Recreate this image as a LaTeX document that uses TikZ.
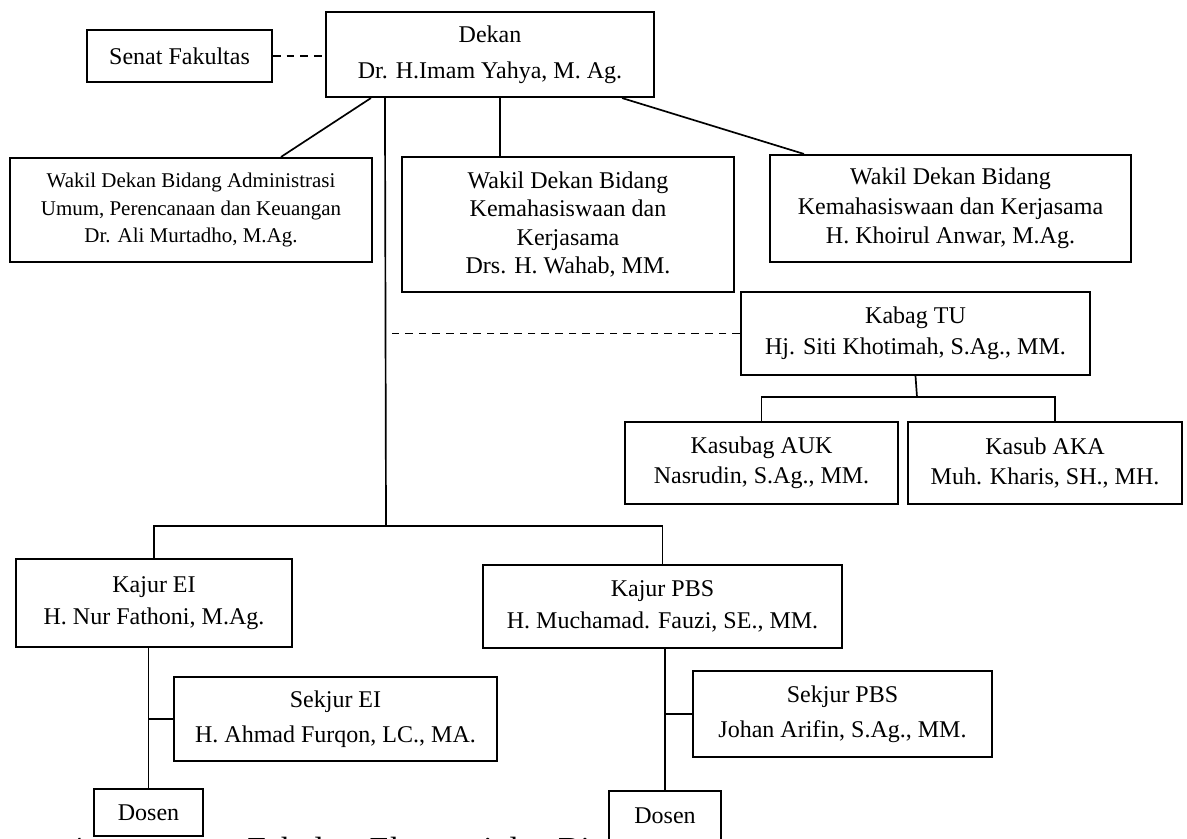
\documentclass[tikz,border=0pt]{standalone}
\usepackage{fontspec}
\setmainfont{Liberation Serif}
\usetikzlibrary{positioning}
\usetikzlibrary{calc}

\begin{document}
\begin{tikzpicture}[x=0.025cm, y=-0.025cm,
	box/.style={rectangle, draw=black, line width=1.5pt, fill=white, inner sep=0pt, align=center, font=\fontsize{17.07}{22}\selectfont},
	link/.style={line width=1.2pt},
	dashlink/.style={line width=1.2pt, dash pattern=on 5.4pt off 4.3pt},
	caption/.style={anchor=base west, inner sep=0pt, font=\fontsize{23.9}{28}\selectfont}]
	\newcommand\pxu{0.025cm}
	\useasboundingbox (0,0) rectangle (1187,839);
	\node[box, minimum width=185*\pxu, minimum height=52*\pxu] (senat) at (179.5,56) {Senat Fakultas};
	\node[box, minimum width=328*\pxu, minimum height=85*\pxu, font=\fontsize{17.07}{25.6}\selectfont] (dekan) at (490,54.5) {Dekan\\Dr. H.Imam Yahya, M. Ag.};
	\node[box, minimum width=362*\pxu, minimum height=104*\pxu, font=\fontsize{14.9}{19.6}\selectfont] (wdAdm) at (191,210) {Wakil Dekan Bidang Administrasi\\Umum, Perencanaan dan Keuangan\\Dr. Ali Murtadho, M.Ag.};
	\node[box, minimum width=332*\pxu, minimum height=135*\pxu, font=\fontsize{17.07}{20.3}\selectfont] (wdMhs) at (568,224.5) {Wakil Dekan Bidang\\Kemahasiswaan dan\\Kerjasama\\Drs. H. Wahab, MM.};
	\node[box, minimum width=361*\pxu, minimum height=107*\pxu, font=\fontsize{17.07}{21}\selectfont] (wdKrj) at (950.5,208.5) {Wakil Dekan Bidang\\Kemahasiswaan dan Kerjasama\\H. Khoirul Anwar, M.Ag.};
	\node[box, minimum width=349*\pxu, minimum height=83*\pxu] (kabag) at (915.5,333.5) {Kabag TU\\Hj. Siti Khotimah, S.Ag., MM.};
	\node[box, minimum width=273*\pxu, minimum height=82*\pxu, font=\fontsize{17.07}{21.3}\selectfont] (kasubag) at (761.5,463) {Kasubag AUK\\Nasrudin, S.Ag., MM.};
	\node[box, minimum width=274*\pxu, minimum height=82*\pxu, font=\fontsize{17.07}{21.3}\selectfont] (kasub) at (1045,463) {Kasub AKA\\Muh. Kharis, SH., MH.};
	\node[box, minimum width=276*\pxu, minimum height=88*\pxu, font=\fontsize{17.07}{23.1}\selectfont] (kajurEI) at (154,603) {Kajur EI\\H. Nur Fathoni, M.Ag.};
	\node[box, minimum width=359*\pxu, minimum height=83*\pxu, font=\fontsize{17.07}{23.1}\selectfont] (kajurPBS) at (662.5,606.5) {Kajur PBS\\H. Muchamad. Fauzi, SE., MM.};
	\node[box, minimum width=323*\pxu, minimum height=84*\pxu, font=\fontsize{17.07}{24.9}\selectfont] (sekjurEI) at (335.5,719) {Sekjur EI\\H. Ahmad Furqon, LC., MA.};
	\node[box, minimum width=299*\pxu, minimum height=86*\pxu, font=\fontsize{17.07}{24.9}\selectfont] (sekjurPBS) at (842.5,714) {Sekjur PBS\\Johan Arifin, S.Ag., MM.};
	\node[caption] (capNum) at (67,860) {4};
	\node[caption] (capText) at (247,860) {Fakultas Ekonomi dan Bisnis};
	\node[box, minimum width=109*\pxu, minimum height=47*\pxu] (dosenEI) at (148.5,812.5) {Dosen};
	\node[box, minimum width=112*\pxu, minimum height=50*\pxu] (dosenPBS) at (665,816) {Dosen};
	\coordinate (hub) at (386,526);
	\coordinate (tuHub) at (917,397);
	\draw[dashlink] (senat.east) -- (dekan.west |- senat.east);
	\draw[link] ([xshift=46*\pxu]dekan.south west) -- ([xshift=90*\pxu]wdAdm.north);
	\draw[link] ([xshift=10*\pxu]dekan.south) -- ([xshift=10*\pxu]dekan.south |- wdMhs.north);
	\draw[link] ([xshift=-33*\pxu]dekan.south east) -- ([xshift=35*\pxu]wdKrj.north west);
	\draw[link] ([xshift=60*\pxu]dekan.south west) -- (hub);
	\draw[link] (kajurEI.north) |- (hub) -| (kajurPBS.north);
	\draw[dashlink] (kabag.west) -- ([xshift=6*\pxu]kabag.west -| hub);
	\draw[link] (kabag.south) -- (tuHub);
	\draw[link] (kasubag.north) |- (tuHub) -| ([xshift=10*\pxu]kasub.north);
	\draw[link] (dosenEI.north) -- (dosenEI.north |- kajurEI.south);
	\draw[link] (sekjurEI.west) -- (sekjurEI.west -| dosenEI.north);
	\draw[link] (dosenPBS.north) -- (dosenPBS.north |- kajurPBS.south);
	\draw[link] (sekjurPBS.west) -- (sekjurPBS.west -| dosenPBS.north);
\end{tikzpicture}
\end{document}
